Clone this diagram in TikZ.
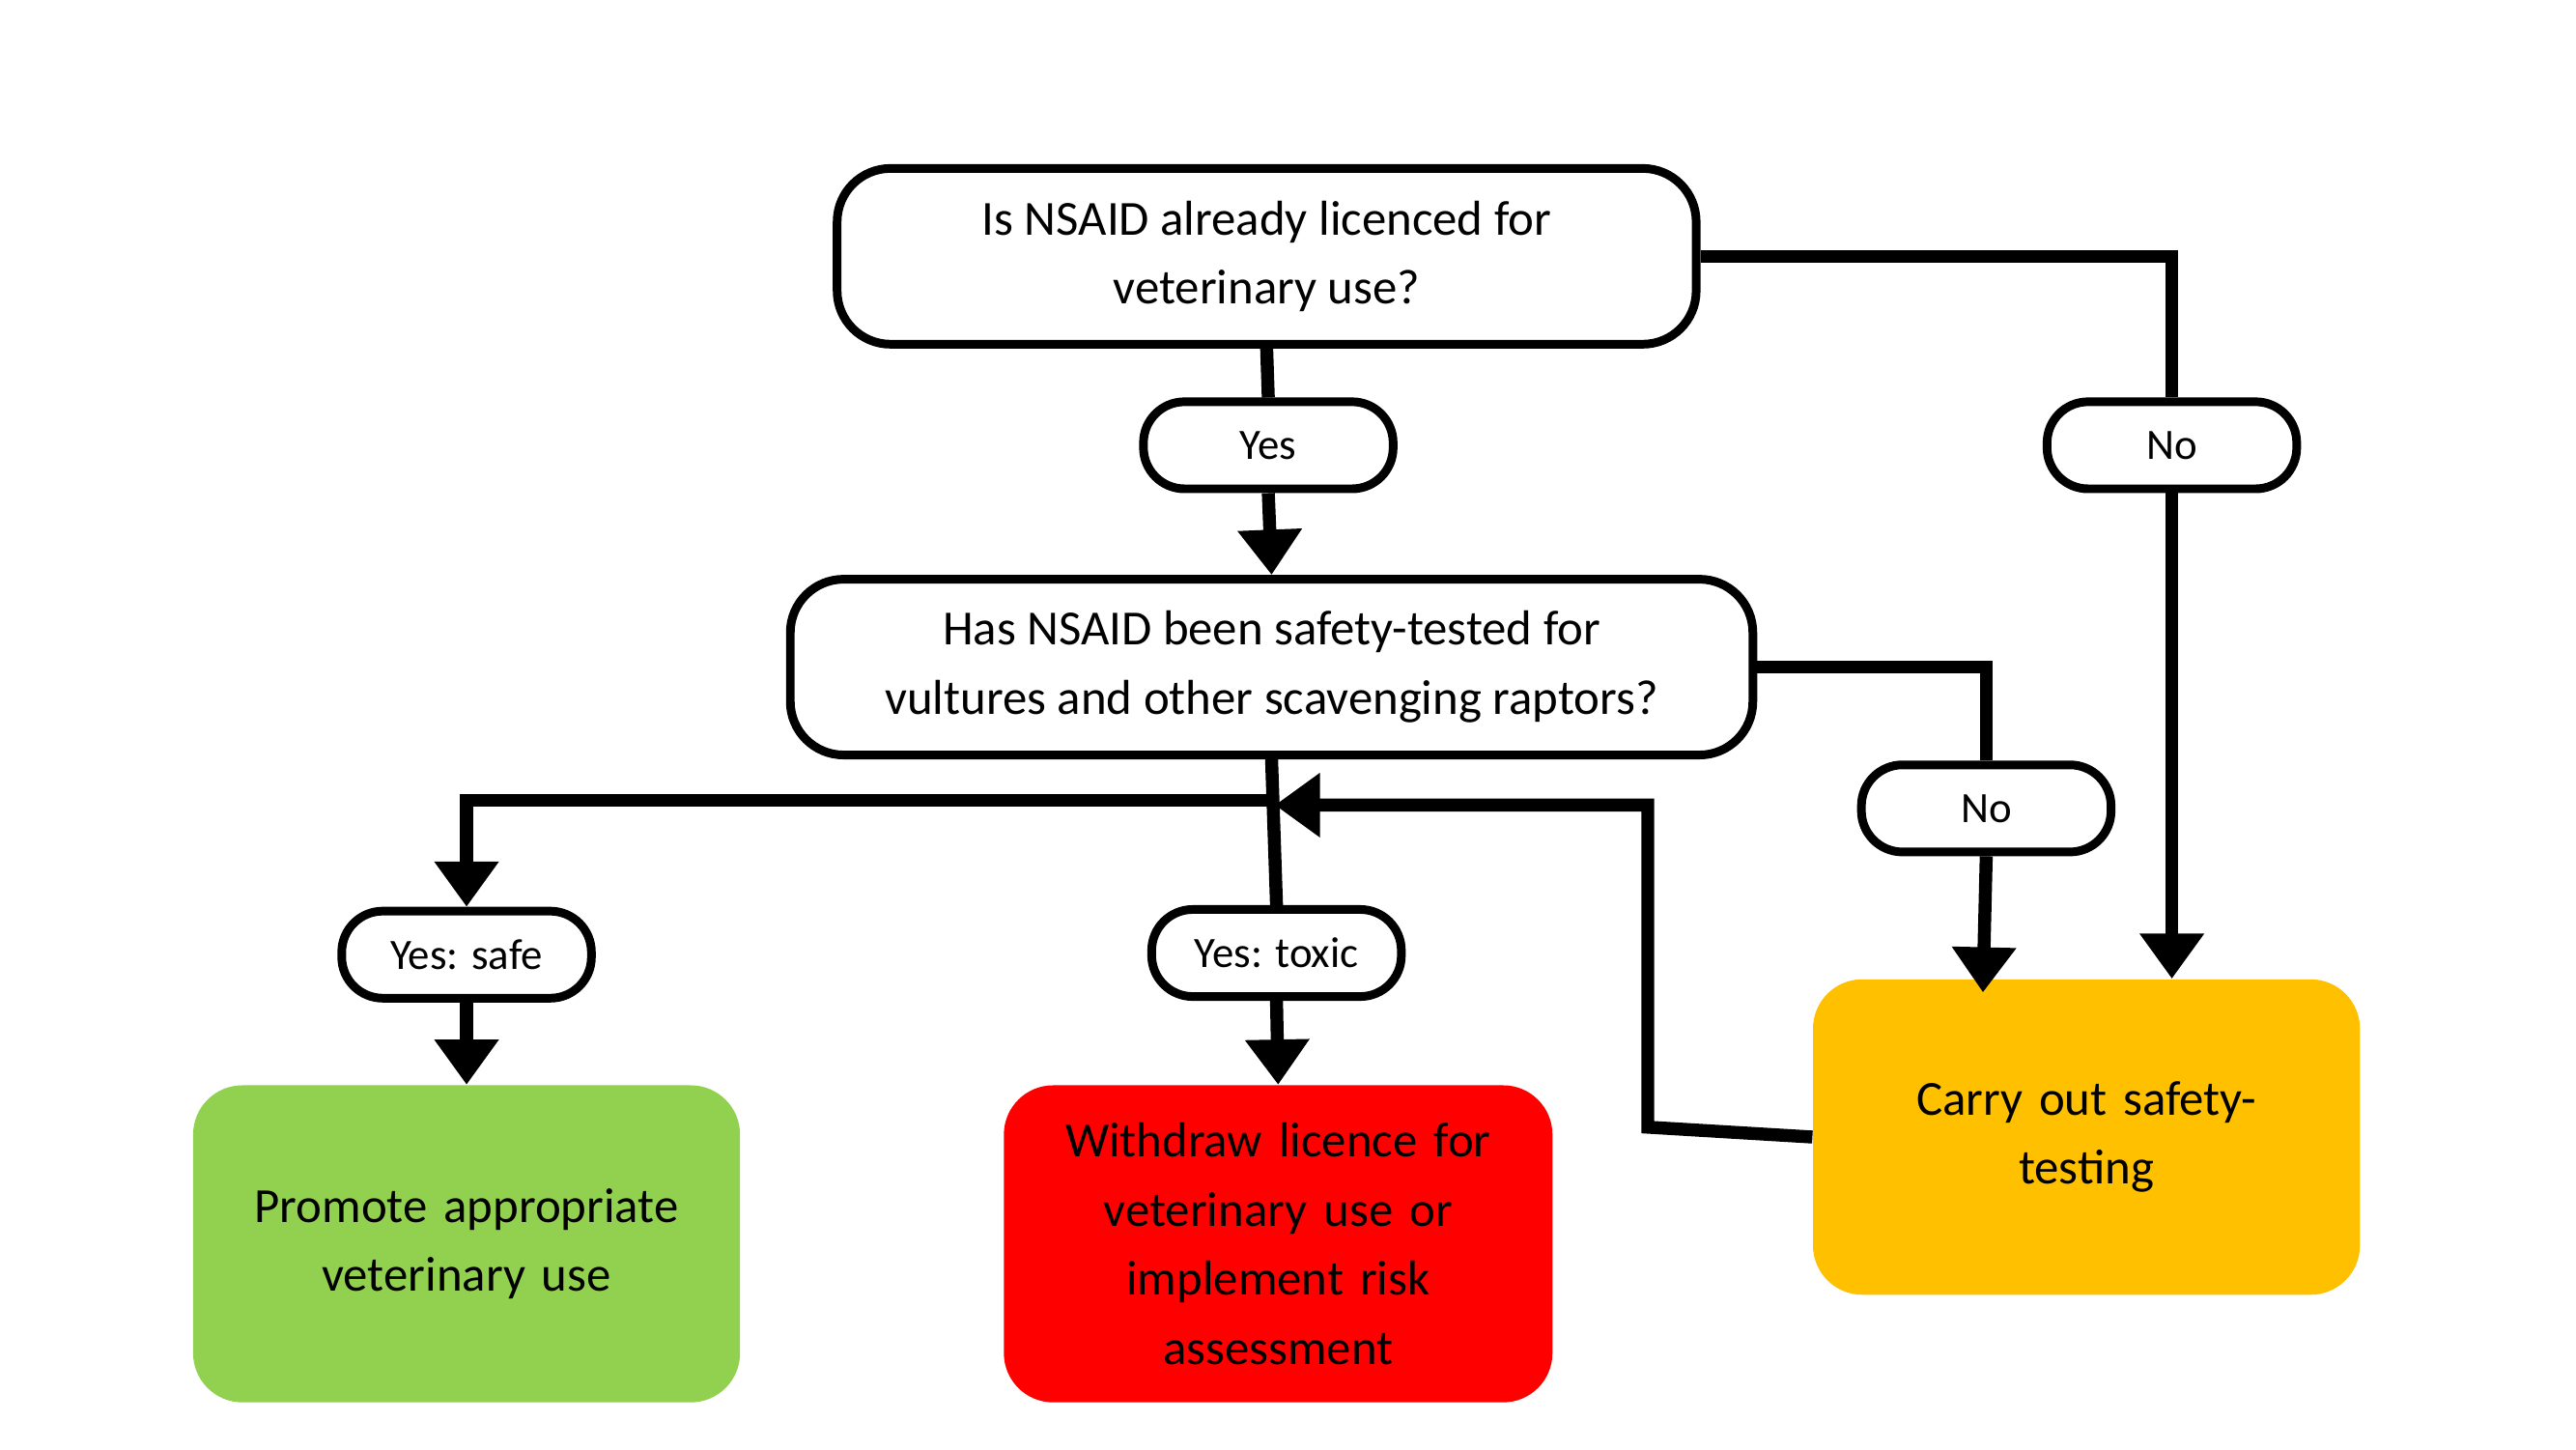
\documentclass[tikz,border=0pt]{standalone}
\usepackage{fontspec}
\setmainfont{Carlito}
\usetikzlibrary{arrows.meta}
\begin{document}
\begin{tikzpicture}[x=0.02cm,y=-0.02cm,
  box/.style={draw,line width=3pt,rounded corners=0.65cm,align=center,font=\fontsize{17}{24}\selectfont,inner sep=0pt},
  fbox/.style={rounded corners=0.6cm,align=center,font=\fontsize{17}{24}\selectfont,inner sep=0pt,text width=6.2cm},
  pill/.style={draw,line width=3pt,rounded corners=0.5cm,minimum width=3.04cm,minimum height=1.06cm,font=\fontsize{15}{18}\selectfont,inner sep=0pt},
  conn/.style={line width=4.5pt},
  arr/.style={conn,-{Triangle[length=0.55cm,width=0.75cm]}}]
\useasboundingbox (0,0) rectangle (1568,882);
\node[box,minimum width=10.46cm,minimum height=2.14cm] (q1) at (771,156) {Is NSAID already licenced for\\veterinary use?};
\node[pill] (yes) at (772,271) {Yes};
\node[pill] (no) at (1322,271) {No};
\node[box,minimum width=11.72cm,minimum height=2.14cm] (q2) at (774,406) {Has NSAID been safety-tested for\\vultures and other scavenging raptors?};
\node[pill] (no2) at (1209,492) {No};
\node[pill] (ys) at (284,581) {Yes: safe};
\node[pill] (yt) at (777,580) {Yes: toxic};
\node[fbox,fill={rgb,255:red,146;green,208;blue,80},minimum width=6.66cm,minimum height=3.86cm] (g) at (284,757) {Promote appropriate\\veterinary use};
\node[fbox,fill={rgb,255:red,255;green,0;blue,0},minimum width=6.68cm,minimum height=3.86cm] (r) at (778,757) {Withdraw licence for\\veterinary use or\\implement risk\\assessment};
\node[fbox,fill={rgb,255:red,255;green,192;blue,0},minimum width=6.66cm,minimum height=3.84cm] (y) at (1270,692) {Carry out safety-\\testing};
\coordinate (j) at (775,487);
\coordinate (k) at (776,490);
\draw[conn] (q1.south) -- (yes.north);
\draw[arr] (yes.south) -- (q2.north);
\draw[conn] (q1.east) -| (no.north);
\draw[arr] (no.south) -- (y.north -| no);
\draw[conn] (q2.east) -| (no2.north);
\draw[arr] (no2.south) -- (1207,604);
\draw[conn] (q2.south) -- (yt.north);
\draw[arr] (j) -| (ys.north);
\draw[arr] (ys.south) -- (g.north);
\draw[arr] (yt.south) -- (r.north);
\draw[arr] (y.west) -- (1003,686) -- (1003,490) -- (k);
\end{tikzpicture}
\end{document}
